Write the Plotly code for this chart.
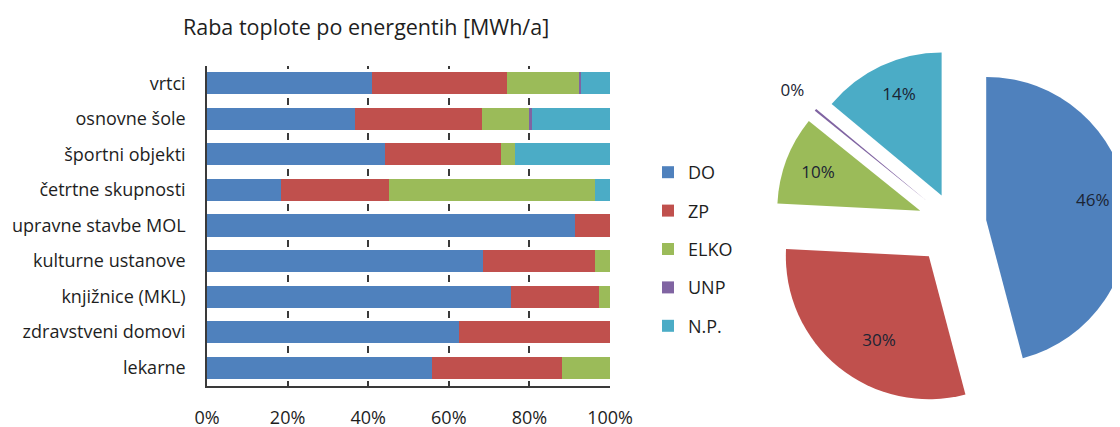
import plotly.graph_objects as go

categories = ["vrtci", "osnovne šole", "športni objekti", "četrtne skupnosti",
              "upravne stavbe MOL", "kulturne ustanove", "knjižnice (MKL)",
              "zdravstveni domovi", "lekarne"]

series_names = ["DO", "ZP", "ELKO", "UNP", "N.P."]
do_vals   = [41.0, 36.8, 44.2, 18.4, 91.2, 68.6, 75.4, 62.6, 55.8]
zp_vals   = [33.4, 31.4, 28.8, 26.7,  8.8, 27.8, 21.8, 37.4, 32.2]
elko_vals = [18.0, 11.8,  3.5, 51.3,  0.0,  3.6,  2.8,  0.0, 12.0]
unp_vals  = [ 0.4,  0.6,  0.0,  0.0,  0.0,  0.0,  0.0,  0.0,  0.0]
np_vals   = [ 7.2, 19.4, 23.5,  3.6,  0.0,  0.0,  0.0,  0.0,  0.0]

pie_labels = ["DO", "ZP", "ELKO", "UNP", "N.P."]
pie_values = [46.0, 30.0, 10.0, 0.25, 14.0]

x_ticks = [0, 20, 40, 60, 80, 100]
x_ticklabels = ["0%", "20%", "40%", "60%", "80%", "100%"]

colors = ["#4F81BD", "#C0504D", "#9BBB59", "#8064A2", "#4BACC6"]
FONT = "Open Sans"
TXT = "#1e1e1e"

W, H = 1140, 427
OFF = 8  # page body margin


def px(s):
    return (s - OFF) / W


def py(s):
    return 1 - (s - OFF) / H


fig = go.Figure()

for name, vals, col in zip(series_names,
                           [do_vals, zp_vals, elko_vals, unp_vals, np_vals],
                           colors):
    fig.add_trace(go.Bar(
        y=categories, x=vals, name=name, orientation="h",
        marker=dict(color=col, line=dict(width=0)),
        legendgroup=name, xaxis="x", yaxis="y", hoverinfo="skip",
    ))

NB = "\u00a0"
pct = "%{percent:.0%}"
pie_templates = [
    NB * 16 + pct + "<br>" + NB,          # DO label sits further out
    NB + "<br>" + NB + "<br>" + pct,      # ZP label lower
    pct,                                  # ELKO
    pct + "<br>" + NB,                    # UNP (outside)
    pct + "<br>" + NB,                    # N.P. label higher
]

pie_cx, pie_cy, pie_half = 955, 224, 184.5
fig.add_trace(go.Pie(
    labels=pie_labels, values=pie_values,
    marker=dict(colors=colors, line=dict(width=0)),
    sort=False, direction="clockwise", rotation=0,
    pull=[0.22, 0.29, 0.26, 0.26, 0.22],
    texttemplate=pie_templates,
    textposition=["inside", "inside", "inside", "outside", "inside"],
    insidetextorientation="horizontal",
    textfont=dict(family=FONT, size=17, color="#1b2433"),
    showlegend=False, hoverinfo="skip", automargin=False,
    domain=dict(x=[px(pie_cx - pie_half), px(pie_cx + pie_half)],
                y=[py(pie_cy + pie_half), py(pie_cy - pie_half)]),
))

plot_top, plot_bot = 65.5, 385.5
period = (plot_bot - plot_top) / len(categories)
half_dash = 3.5
dash = f"{half_dash}px,{period - 2*half_dash:.2f}px,{half_dash}px,0px"

fig.update_layout(
    width=W, height=H,
    margin=dict(l=0, r=0, t=0, b=0, autoexpand=False),
    paper_bgcolor="white", plot_bgcolor="white",
    barmode="stack", bargap=0.38,
    font=dict(family=FONT, size=18, color=TXT),
    xaxis=dict(
        domain=[px(207), px(610)], range=[0, 100], automargin=False,
        tickvals=x_ticks, ticktext=x_ticklabels,
        showgrid=True, gridcolor="#3a3a3a", gridwidth=1.5, griddash=dash,
        zeroline=False, showline=True, linecolor="#3a3a3a", linewidth=1.5,
        ticks="inside", ticklen=5, tickcolor="#3a3a3a", tickwidth=1.5,
        ticklabelstandoff=15, tickfont=dict(size=18, color=TXT),
        fixedrange=True,
    ),
    yaxis=dict(
        domain=[py(plot_bot), py(plot_top)], automargin=False,
        autorange="reversed", type="category",
        showgrid=False, zeroline=False,
        showline=True, linecolor="#3a3a3a", linewidth=1.5,
        ticks="", ticklabelstandoff=16, tickfont=dict(size=18, color=TXT),
        fixedrange=True,
    ),
    legend=dict(
        x=px(648), y=py(154), xanchor="left", yanchor="top",
        traceorder="grouped", tracegroupgap=12,
        font=dict(family=FONT, size=18, color=TXT),
        bgcolor="rgba(0,0,0,0)",
    ),
    annotations=[dict(
        text="Raba toplote po energentih [MWh/a]",
        x=px(366), y=py(26), xref="paper", yref="paper",
        xanchor="center", yanchor="middle", showarrow=False,
        font=dict(family=FONT, size=21.5, color=TXT),
    )],
)

fig.write_html("out.html")
